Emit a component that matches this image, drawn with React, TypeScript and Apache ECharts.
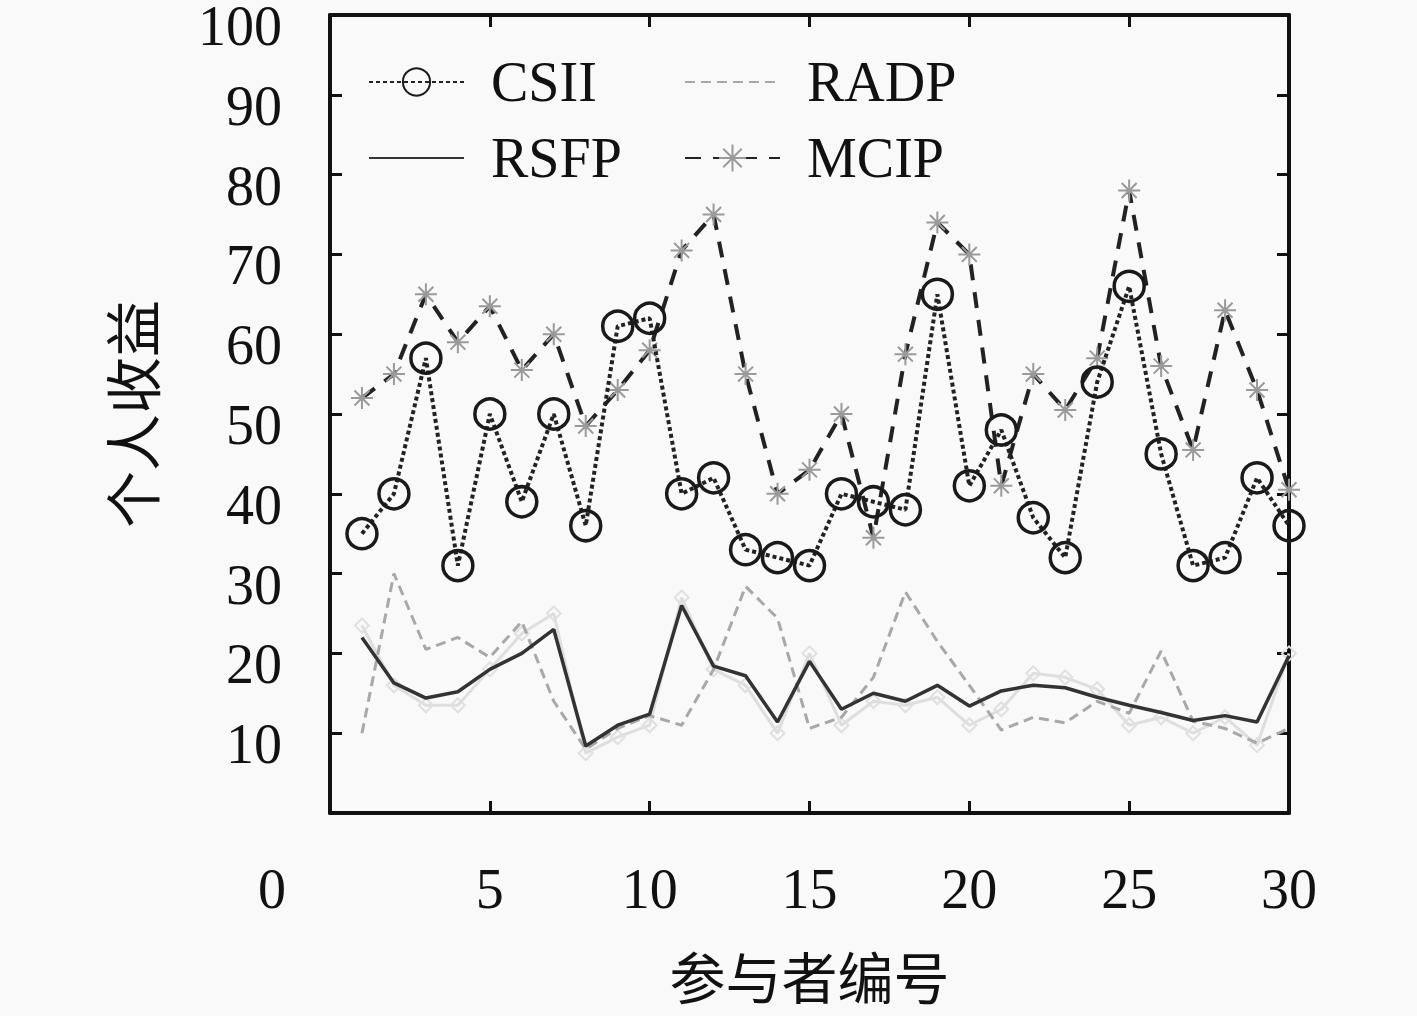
import React, { useEffect, useRef } from 'react';
import * as echarts from 'echarts';

const participants = [1, 2, 3, 4, 5, 6, 7, 8, 9, 10, 11, 12, 13, 14, 15, 16, 17, 18, 19, 20, 21, 22, 23, 24, 25, 26, 27, 28, 29, 30];
const csii = [35, 40, 57, 31, 50, 39, 50, 36, 61, 62, 40, 42, 33, 32, 31, 40, 39, 38, 65, 41, 48, 37, 32, 54, 66, 45, 31, 32, 42, 36];
const mcip = [52, 55, 65, 59, 63.5, 55.5, 60, 48.5, 53, 58, 70.5, 75, 55, 40, 43, 50, 34.5, 57.5, 74, 70, 41, 55, 50.5, 57, 78, 56, 45.5, 63, 53, 40.5];
const rsfp = [22, 16.3, 14.4, 15.2, 18, 20, 23, 8.4, 11, 12.4, 26, 18.4, 17.2, 11.4, 19, 13, 15, 14, 16, 13.4, 15.3, 16, 15.7, 14.5, 13.5, 12.6, 11.6, 12.2, 11.4, 19.7];
const radp = [10, 30, 20.5, 22, 19.5, 24, 14, 8, 10.6, 12.2, 11, 18, 28.4, 24.4, 10.6, 12, 17, 27.7, 21.5, 16, 10.4, 12, 11.3, 14, 12.5, 20.3, 11.5, 10.6, 8.75, 10.6];
const faint = [23.5, 16, 13.5, 13.5, 18, 22.5, 25, 7.5, 9.5, 11, 27, 18, 16, 10, 20, 11, 14, 13.5, 14.5, 11, 13, 17.5, 17, 15.5, 11, 12, 10, 12, 8.5, 20];

const xTicks = [0, 5, 10, 15, 20, 25, 30];
const yTicks = [0, 10, 20, 30, 40, 50, 60, 70, 80, 90, 100];

const pairs = (vals: number[]) => vals.map((v, i) => [participants[i], v]);

const SERIF = '"Liberation Serif", "DejaVu Serif", serif';
const CJK = '"Noto Sans CJK SC", sans-serif';
const ASTER = 'path://M0,5L10,5M5,0L5,10M1.6,1.6L8.4,8.4M8.4,1.6L1.6,8.4';

export default function App() {
  const ref = useRef<HTMLDivElement>(null);
  useEffect(() => {
    document.body.style.margin = '0';
    document.body.style.background = '#f9f9f9';
    const chart = echarts.init(ref.current!, undefined, { renderer: 'svg' });
    const axisLine = { show: true, onZero: false, lineStyle: { color: '#111', width: 4 } };
    const axisTick = { show: true, inside: true, length: 12, lineStyle: { color: '#111', width: 3 } };
    const xBase = { type: 'value', min: xTicks[0], max: xTicks[xTicks.length - 1], interval: 5, splitLine: { show: false }, axisLine, axisTick };
    const yBase = { type: 'value', min: yTicks[0], max: yTicks[yTicks.length - 1], interval: 10, splitLine: { show: false }, axisLine, axisTick };
    const legendText = { fontFamily: SERIF, fontSize: 56, color: '#111', lineHeight: 60, padding: [0, 0, 0, 22] };
    const hiddenMark = { color: 'transparent', borderColor: 'transparent', opacity: 0 };
    chart.setOption({
      animation: false,
      backgroundColor: '#f9f9f9',
      grid: { left: 330, right: 128, top: 15, bottom: 203, outerBoundsMode: 'none', containLabel: false },
      legend: [
        {
          data: ['CSII', { name: 'RSFP', itemStyle: hiddenMark }],
          orient: 'vertical', left: 368, top: 52, padding: 0, itemGap: 16, itemWidth: 95, itemHeight: 34, textStyle: legendText,
        },
        {
          data: [{ name: 'RADP', itemStyle: hiddenMark }, 'MCIP'],
          orient: 'vertical', left: 684, top: 52, padding: 0, itemGap: 16, itemWidth: 95, itemHeight: 34, textStyle: legendText,
        },
      ],
      xAxis: [
        {
          ...xBase,
          position: 'bottom',
          name: '参与者编号',
          nameLocation: 'middle',
          nameGap: 133,
          nameTextStyle: { fontFamily: CJK, fontSize: 56, color: '#111' },
          axisLabel: {
            margin: 48,
            fontFamily: SERIF,
            fontSize: 56,
            color: '#111',
            formatter: (v: number) => (v === 0 ? '{z|0}' : String(v)),
            rich: { z: { fontFamily: SERIF, fontSize: 56, color: '#111', padding: [0, 116, 0, 0] } },
          },
        },
        { ...xBase, position: 'top', axisLabel: { show: false } },
      ],
      yAxis: [
        {
          ...yBase,
          position: 'left',
          name: '个人收益',
          nameLocation: 'middle',
          nameGap: 172,
          nameRotate: 90,
          nameTextStyle: { fontFamily: CJK, fontSize: 57, color: '#111' },
          axisLabel: {
            margin: 48,
            fontFamily: SERIF,
            fontSize: 56,
            lineHeight: 22,
            verticalAlign: 'top',
            color: '#111',
            formatter: (v: number) => (v === 0 ? '' : String(v)),
          },
        },
        { ...yBase, position: 'right', axisLabel: { show: false } },
      ],
      series: [
        {
          name: 'faint',
          type: 'line',
          data: pairs(faint),
          symbol: 'diamond',
          symbolSize: 14,
          itemStyle: { color: 'transparent', borderColor: '#e0e0e0', borderWidth: 2 },
          lineStyle: { color: '#dedede', width: 3 },
          z: 1,
        },
        {
          name: 'RADP',
          type: 'line',
          data: pairs(radp),
          symbol: 'none',
          itemStyle: { color: '#a8a8a8' },
          lineStyle: { color: '#a8a8a8', width: 3, type: [10, 6] },
          z: 2,
        },
        {
          name: 'RSFP',
          type: 'line',
          data: pairs(rsfp),
          symbol: 'none',
          itemStyle: { color: '#333' },
          lineStyle: { color: '#333', width: 3.5 },
          z: 3,
        },
        {
          name: 'MCIP',
          type: 'line',
          data: pairs(mcip),
          symbol: ASTER,
          symbolSize: 22,
          itemStyle: { color: 'transparent', borderColor: '#9a9a9a', borderWidth: 2 },
          lineStyle: { color: '#222', width: 4, type: [16, 12] },
          z: 4,
        },
        {
          name: 'CSII',
          type: 'line',
          data: pairs(csii),
          symbol: 'circle',
          symbolSize: 30,
          itemStyle: { color: 'transparent', borderColor: '#1a1a1a', borderWidth: 3.5 },
          lineStyle: { color: '#222', width: 4, type: [4, 3] },
          z: 5,
        },
      ],
    });
    return () => chart.dispose();
  }, []);
  return <div ref={ref} style={{ position: 'fixed', left: 0, top: 0, width: 1417, height: 1016 }} />;
}
